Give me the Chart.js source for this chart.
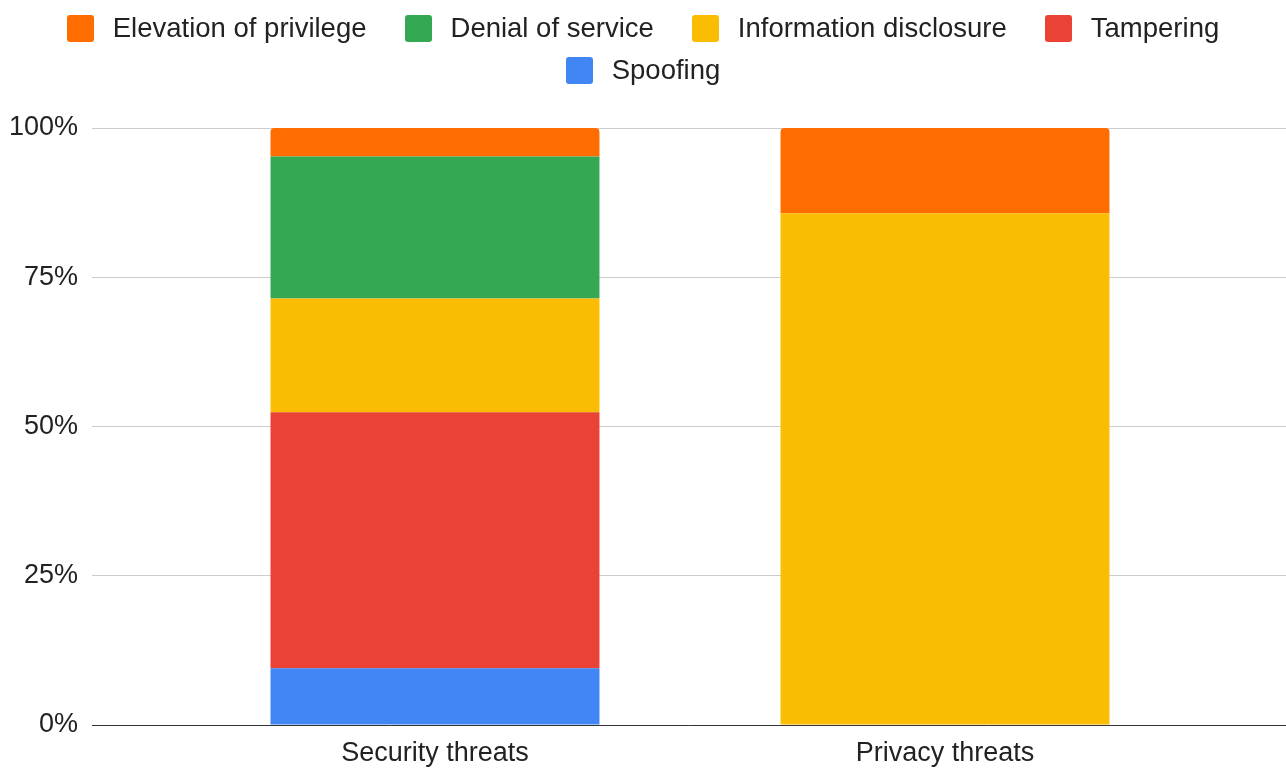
<!DOCTYPE html>
<html>
<head>
<meta charset="utf-8">
<script src="https://cdn.jsdelivr.net/npm/chart.js@4"></script>
<style>
  html, body { margin: 0; padding: 0; background: #fff; }
  #wrap { position: relative; width: 1286px; height: 769px; }
  #legend {
    position: absolute; left: 0; top: 12px; width: 1286px;
    display: flex; flex-wrap: wrap; justify-content: center;
    column-gap: 38px; row-gap: 10px;
    font-family: "Liberation Sans", Arial, sans-serif; font-size: 27.5px; line-height: 32px; color: #222;
  }
  .item { display: flex; align-items: center; white-space: nowrap; }
  .box { width: 27px; height: 27px; border-radius: 3px; margin-right: 19px; }
</style>
</head>
<body>
<div id="wrap">
  <canvas id="myChart" width="1286" height="769"></canvas>
  <div id="legend"></div>
</div>
<script>
  const categories = ['Security threats', 'Privacy threats'];
  const seriesNames = ['Spoofing', 'Tampering', 'Information disclosure', 'Denial of service', 'Elevation of privilege'];
  const seriesColors = ['#4285f4', '#ea4335', '#fbbc04', '#34a853', '#ff6d01'];
  // threat counts per category
  const spoofing = [2, 0];
  const tampering = [9, 0];
  const infoDisclosure = [4, 6];
  const denialOfService = [5, 0];
  const elevation = [1, 1];
  const yTicks = [0, 25, 50, 75, 100];

  const seriesValues = [spoofing, tampering, infoDisclosure, denialOfService, elevation];
  const totals = categories.map((c, i) => seriesValues.reduce((s, arr) => s + arr[i], 0));

  const datasets = seriesNames.map((name, k) => ({
    label: name,
    data: categories.map((c, i) => ({ x: i, y: seriesValues[k][i] / totals[i] * 100 })),
    backgroundColor: seriesColors[k],
    borderRadius: 4,
    categoryPercentage: 1,
    barPercentage: 0.645
  }));

  const font = { family: '"Liberation Sans", Arial, sans-serif', size: 27 };

  const config = {
    type: 'bar',
    data: { datasets },
    options: {
      responsive: false,
      animation: false,
      layout: { padding: { top: 128, left: 9, right: 0, bottom: 0 } },
      plugins: {
        legend: { display: false },
        tooltip: { enabled: false }
      },
      scales: {
        x: {
          type: 'linear',
          stacked: true,
          offset: false,
          min: -0.6725,
          max: 1.6686,
          afterBuildTicks: s => { s.ticks = categories.map((c, i) => ({ value: i })); },
          afterFit: s => { s.paddingLeft = 0; s.paddingRight = 0; s.height = 44; },
          ticks: {
            font: font,
            color: '#222',
            padding: 12,
            maxRotation: 0,
            callback: v => categories[v]
          },
          grid: { display: false, drawTicks: false, offset: false },
          border: { display: true, color: '#333', width: 1 }
        },
        y: {
          stacked: true,
          min: 0,
          max: 100,
          afterBuildTicks: s => { s.ticks = yTicks.map(v => ({ value: v })); },
          afterFit: s => { s.width = 83; },
          ticks: {
            font: font,
            color: '#222',
            padding: 14,
            callback: v => v + '%'
          },
          grid: { color: '#cccccc', lineWidth: 1, drawTicks: false },
          border: { display: false }
        }
      }
    }
  };

  var myChart = new Chart(document.getElementById('myChart'), config);

  // legend, reversed like the original
  const legend = document.getElementById('legend');
  for (let k = seriesNames.length - 1; k >= 0; k--) {
    const item = document.createElement('div');
    item.className = 'item';
    const box = document.createElement('span');
    box.className = 'box';
    box.style.background = seriesColors[k];
    item.appendChild(box);
    item.appendChild(document.createTextNode(seriesNames[k]));
    legend.appendChild(item);
  }
</script>
</body>
</html>
